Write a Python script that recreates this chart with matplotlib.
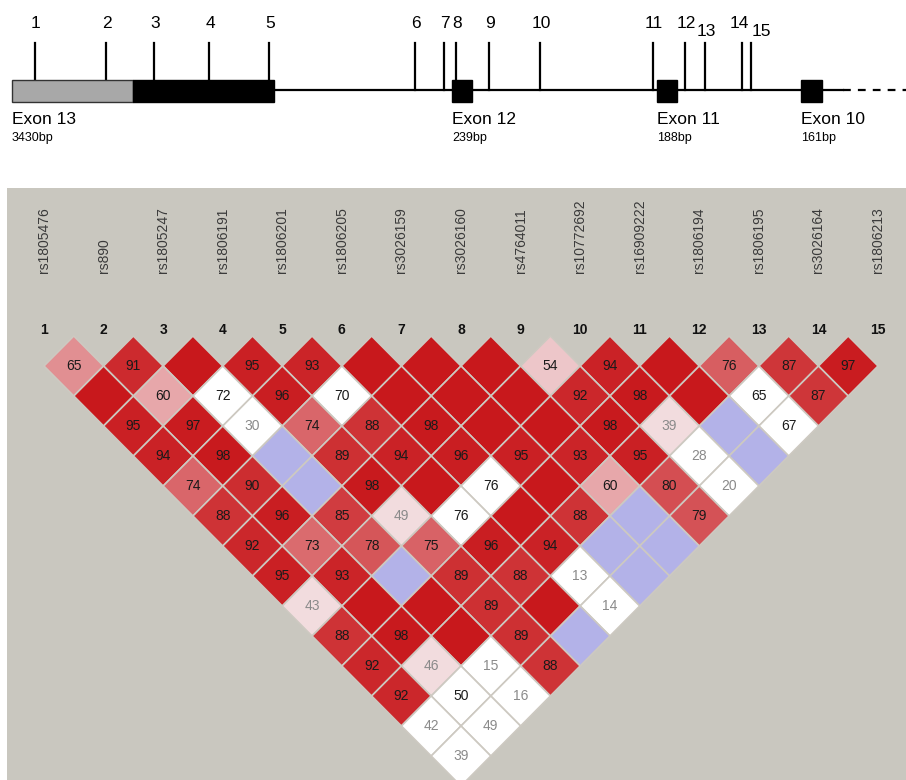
import matplotlib.pyplot as plt
from matplotlib.patches import Polygon, Rectangle

plt.rcParams['font.family'] = ['Liberation Sans', 'DejaVu Sans']

# --- gene track (schematic positions along the drawn gene) ---
snp_track_pos = [35, 106, 154, 209, 269, 415, 444, 456, 489, 540, 653, 685, 705, 742, 751]
snp_low_labels = [13, 15]          # these two labels sit a bit lower
label_nudge = {14: -4, 15: 9}      # spread the crowded 14/15 labels
exon_names = ["Exon 13", "Exon 12", "Exon 11", "Exon 10"]
exon_sizes = ["3430bp", "239bp", "188bp", "161bp"]
exon_start = [12, 452, 657, 801]
exon_end = [274, 472, 677, 822]
utr_end = 133                      # grey (untranslated) part of exon 13
track_end = 843                    # solid line ends, dashed after

# --- LD block ---
snp_names = ["rs1805476", "rs890", "rs1805247", "rs1806191", "rs1806201",
             "rs1806205", "rs3026159", "rs3026160", "rs4764011", "rs10772692",
             "rs16909222", "rs1806194", "rs1806195", "rs3026164", "rs1806213"]

# D' x100 per diagonal (row d holds pairs (i, i+d)); 100 = D'=1, no label
dprime_rows = [
    [65, 91, 100, 95, 93, 100, 100, 100, 54, 94, 100, 76, 87, 97],
    [100, 60, 72, 96, 70, 100, 100, 100, 92, 98, 100, 65, 87],
    [95, 97, 30, 74, 88, 98, 100, 100, 98, 39, 100, 67],
    [94, 98, 100, 89, 94, 96, 95, 93, 95, 28, 100],
    [74, 90, 100, 98, 100, 76, 100, 60, 80, 20],
    [88, 96, 85, 49, 76, 100, 88, 100, 79],
    [92, 73, 78, 75, 96, 94, 100, 100],
    [95, 93, 100, 89, 88, 13, 100],
    [43, 100, 100, 89, 100, 14],
    [88, 98, 100, 89, 100],
    [92, 46, 15, 88],
    [92, 50, 16],
    [42, 49],
    [39],
]

# pairs with LOD < 2 (white if D'<1, blue if D'=1)
low_lod = [(3, 5), (5, 7), (12, 14), (3, 6), (11, 14), (12, 15), (3, 7),
           (10, 14), (11, 15), (3, 8), (6, 11), (10, 15), (5, 11), (8, 14),
           (7, 14), (8, 15), (3, 11), (6, 14), (7, 15), (6, 15), (5, 15),
           (3, 14), (2, 14), (3, 15), (1, 14), (2, 15), (1, 15)]

BG = '#c9c7bf'
DARK = (200, 24, 28)
LIGHT = (242, 220, 222)
BLUE = '#b3b2e8'


def red_shade(dp):
    t = min(1.0, 2 * (1 - dp / 100.0)) ** 1.4
    return tuple((a + (b - a) * t) / 255.0 for a, b in zip(DARK, LIGHT))


fig = plt.figure(figsize=(9.06, 7.8), dpi=100)
fig.patch.set_facecolor('white')

# ---------- gene diagram ----------
ag = fig.add_axes([0, 1 - 188 / 780, 1, 188 / 780])
ag.set_xlim(0, 906)
ag.set_ylim(188, 0)
ag.axis('off')

ag.plot([exon_end[0], track_end], [90, 90], color='black', lw=1.6, zorder=1)
ag.plot([track_end, 906], [90, 90], color='black', lw=1.6, ls=(0, (3.5, 3.2)), zorder=1)

for x, nm in zip(snp_track_pos, range(1, 16)):
    inside = any(s <= x <= e for s, e in zip(exon_start, exon_end))
    ag.plot([x, x], [43, 80 if inside else 90], color='black', lw=1.6, zorder=2)
    ly = 32 if nm in snp_low_labels else 24
    ag.text(x + 1 + label_nudge.get(nm, 0), ly, str(nm), ha='center', va='center', fontsize=12.5)

for k in range(len(exon_names)):
    s, e = exon_start[k], exon_end[k]
    if k == 0:
        ag.add_patch(Rectangle((s, 80), utr_end - s, 22, fc='#a8a8a8', ec='#333333', lw=1, zorder=3))
        ag.add_patch(Rectangle((utr_end, 80), e - utr_end, 22, fc='black', ec='black', lw=1, zorder=3))
    else:
        ag.add_patch(Rectangle((s, 80), e - s, 22, fc='black', ec='black', lw=1, zorder=3))
    ag.text(s, 119, exon_names[k], ha='left', va='center', fontsize=12.5)
    ag.text(s, 138, exon_sizes[k], ha='left', va='center', fontsize=9)

# ---------- LD triangle ----------
px_snp = 59.57      # pixels per SNP step
x0_px, y0_px = 44, 336
left_px, top_px = 7, 188
al = fig.add_axes([left_px / 906, 0, 1 - left_px / 906, (780 - top_px) / 780])
al.set_xlim(1 - (x0_px - left_px) / px_snp, 15 + (906 - 878) / px_snp)
al.set_ylim((780 - y0_px) / 60.0, (top_px - y0_px) / 60.0)
al.set_facecolor(BG)
for sp in al.spines.values():
    sp.set_visible(False)
al.set_xticks([])
al.set_yticks([])

n = len(snp_names)
for i in range(1, n + 1):
    al.text(i, -1.05, snp_names[i - 1], rotation=90, ha='center', va='bottom',
            fontsize=10, color='#3a3a3a')
    al.text(i, -0.1, str(i), ha='center', va='center', fontsize=10,
            fontweight='bold', color='#111111')

for d, row in enumerate(dprime_rows, start=1):
    for i, dp in enumerate(row, start=1):
        j = i + d
        cx, cy = (i + j) / 2.0, d / 2.0
        if (i, j) in low_lod:
            fc = BLUE if dp == 100 else 'white'
        else:
            fc = red_shade(dp)
        al.add_patch(Polygon([(cx - 0.5, cy), (cx, cy - 0.5), (cx + 0.5, cy), (cx, cy + 0.5)],
                             closed=True, fc=fc, ec='#cdc9c1', lw=1.2))
        if dp < 100:
            tc = '#8a8a8a' if dp < 50 else '#1a1a1a'
            al.text(cx, cy, str(dp), ha='center', va='center', fontsize=10, color=tc)

fig.savefig('out.png', dpi=100)
